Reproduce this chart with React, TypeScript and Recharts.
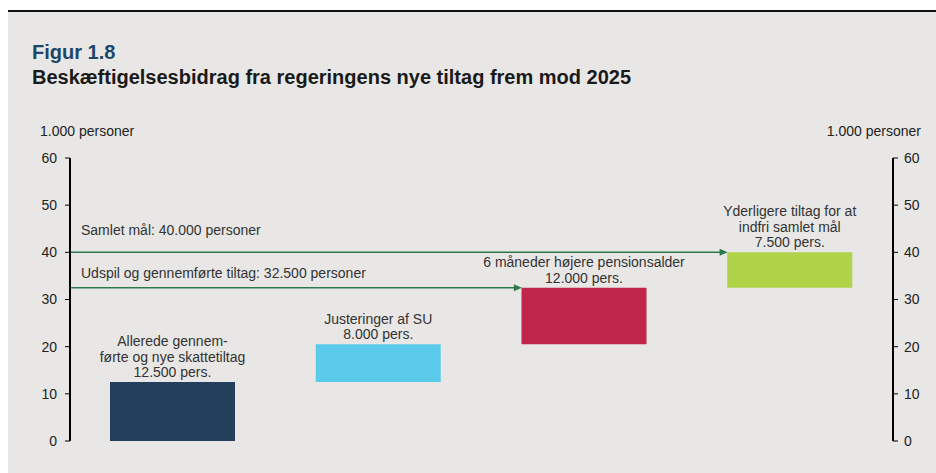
import { ComposedChart, Bar, Line, XAxis, YAxis, ReferenceLine, LabelList, Cell } from 'recharts';

const FONT = '"Liberation Sans", Arial, sans-serif';

// Categories (x position in a 0..4 numeric band) and their contributions (1.000 personer)
const CATEGORIES = [
  'Allerede gennemførte og nye skattetiltag',
  'Justeringer af SU',
  '6 måneder højere pensionsalder',
  'Yderligere tiltag for at indfri samlet mål',
];
const POSITIONS = [0.5, 1.5, 2.5, 3.5];
const BASES = [0, 12.5, 20.5, 32.5];
const CONTRIBUTIONS = [12.5, 8, 12, 7.5];
const BAR_LABELS = [
  ['Allerede gennem-', 'førte og nye skattetiltag', '12.500 pers.'],
  ['Justeringer af SU', '8.000 pers.'],
  ['6 måneder højere pensionsalder', '12.000 pers.'],
  ['Yderligere tiltag for at', 'indfri samlet mål', '7.500 pers.'],
];
const BAR_COLORS = ['#223f5c', '#5bcbeb', '#c0264a', '#b1d34a'];

const Y_TICKS = [0, 10, 20, 30, 40, 50, 60];

// Target lines: value, label, index of the bar the arrow points to
const TARGET_VALUES = [40, 32.5];
const TARGET_LABELS = ['Samlet mål: 40.000 personer', 'Udspil og gennemførte tiltag: 32.500 personer'];
const TARGET_BAR = [3, 2];

const BAR_SIZE = 125;
const ARROW_COLOR = '#2b7a4c';

const data = CATEGORIES.map((name, i) => ({
  name,
  pos: POSITIONS[i],
  base: BASES[i],
  value: CONTRIBUTIONS[i],
}));

const renderBarLabel = (props: any) => {
  const { x, y, width, index } = props;
  const lines = BAR_LABELS[index] || [];
  const cx = Number(x) + Number(width) / 2;
  return (
    <text x={cx} textAnchor="middle" fontSize={14} fill="#333" fontFamily={FONT}>
      {lines.map((l, i) => (
        <tspan key={i} x={cx} y={Number(y) - 5 - (lines.length - 1 - i) * 15.5}>
          {l}
        </tspan>
      ))}
    </text>
  );
};

const arrowShape = (labelText: string, labelDy: number) => (props: any) => {
  const { x1, y1, x2 } = props;
  const end = x2 - BAR_SIZE / 2;
  return (
    <g>
      <line x1={x1} y1={y1} x2={end - 6} y2={y1} stroke={ARROW_COLOR} strokeWidth={1.5} />
      <polygon points={`${end},${y1} ${end - 8},${y1 - 3.5} ${end - 8},${y1 + 3.5}`} fill={ARROW_COLOR} />
      <text x={x1 + 11} y={y1 - labelDy} fontSize={14} fill="#333" fontFamily={FONT}>
        {labelText}
      </text>
    </g>
  );
};

export default function App() {
  const tickStyle = { fill: '#222', fontSize: 14, fontFamily: FONT };
  return (
    <div style={{ position: 'fixed', left: 0, top: 0, width: 936, height: 473, background: '#fff', fontFamily: FONT }}>
      <div style={{ position: 'absolute', left: 8, top: 11, width: 928, height: 462, background: '#e8e7e5' }} />
      <div style={{ position: 'absolute', left: 8, top: 10, width: 928, height: 1.5, background: '#111' }} />
      <div style={{ position: 'absolute', left: 32, top: 41, fontSize: 20, fontWeight: 'bold', color: '#1d4669', lineHeight: '23px' }}>
        Figur 1.8
      </div>
      <div style={{ position: 'absolute', left: 32, top: 66, fontSize: 20, fontWeight: 'bold', color: '#1a1a1a', lineHeight: '23px' }}>
        Beskæftigelsesbidrag fra regeringens nye tiltag frem mod 2025
      </div>
      <div style={{ position: 'absolute', left: 40, top: 123, fontSize: 14, color: '#222' }}>1.000 personer</div>
      <div style={{ position: 'absolute', right: 15, top: 123, fontSize: 14, color: '#222' }}>1.000 personer</div>
      <div style={{ position: 'absolute', left: 0, top: 0 }}>
        <ComposedChart width={936} height={473} data={data} margin={{ top: 158, right: 0, left: 20, bottom: 32 }}>
          <XAxis
            dataKey="pos"
            type="number"
            domain={[0, 4]}
            tick={false}
            tickLine={false}
            height={0}
            axisLine={{ stroke: '#000', strokeWidth: 2 }}
          />
          <YAxis
            yAxisId="l"
            domain={[0, 60]}
            ticks={Y_TICKS}
            width={50}
            tickSize={5}
            tickMargin={8}
            tick={tickStyle}
            axisLine={{ stroke: '#000', strokeWidth: 2 }}
            tickLine={{ stroke: '#000' }}
          />
          <YAxis
            yAxisId="r"
            orientation="right"
            domain={[0, 60]}
            ticks={Y_TICKS}
            width={43}
            tickSize={5}
            tickMargin={6}
            tick={tickStyle}
            axisLine={{ stroke: '#000', strokeWidth: 2 }}
            tickLine={{ stroke: '#000' }}
          />
          <Bar yAxisId="l" dataKey="base" stackId="s" fill="transparent" barSize={BAR_SIZE} isAnimationActive={false} />
          <Bar yAxisId="l" dataKey="value" stackId="s" barSize={BAR_SIZE} isAnimationActive={false}>
            {data.map((_, i) => (
              <Cell key={i} fill={BAR_COLORS[i]} />
            ))}
            <LabelList dataKey="value" content={renderBarLabel} />
          </Bar>
          {/* invisible series so the right-hand axis gets its scale */}
          <Line
            yAxisId="r"
            dataKey="base"
            stroke="none"
            dot={false}
            activeDot={false}
            legendType="none"
            isAnimationActive={false}
          />
          {TARGET_VALUES.map((v, i) => (
            <ReferenceLine
              key={i}
              yAxisId="l"
              segment={[
                { x: 0, y: v },
                { x: POSITIONS[TARGET_BAR[i]], y: v },
              ]}
              shape={arrowShape(TARGET_LABELS[i], i === 0 ? 17.5 : 9.5)}
            />
          ))}
        </ComposedChart>
      </div>
    </div>
  );
}
